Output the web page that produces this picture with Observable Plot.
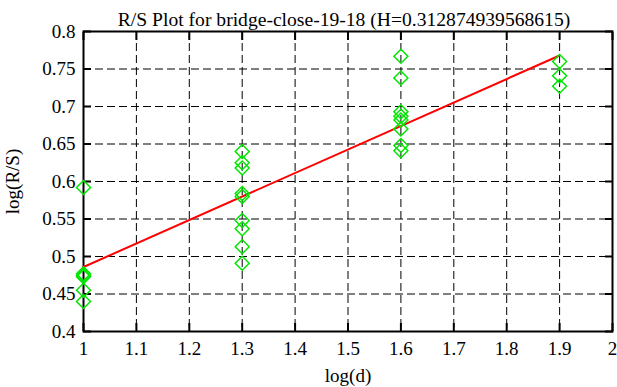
<!DOCTYPE html>
<html>
<head>
<meta charset="utf-8">
<script src="https://cdn.jsdelivr.net/npm/d3@7"></script>
<script src="https://cdn.jsdelivr.net/npm/@observablehq/plot@0.6"></script>
<style>
  html, body { margin: 0; padding: 0; background: #fff; }
</style>
</head>
<body>
<div id="chart"></div>
<script>
const titleText = "R/S Plot for bridge-close-19-18 (H=0.312874939568615)";
const xLabel = "log(d)";
const yLabel = "log(R/S)";

// R/S points (log(d), log(R/S))
const pointsD  = [1, 1, 1, 1, 1, 1,
                  1.3, 1.3, 1.3, 1.3, 1.3, 1.3, 1.3, 1.3, 1.3,
                  1.6, 1.6, 1.6, 1.6, 1.6, 1.6, 1.6, 1.6,
                  1.9, 1.9, 1.9];
const pointsRS = [0.592, 0.477, 0.475, 0.473, 0.455, 0.440,
                  0.640, 0.625, 0.618, 0.584, 0.580, 0.548, 0.537, 0.513, 0.491,
                  0.767, 0.738, 0.693, 0.687, 0.682, 0.670, 0.648, 0.641,
                  0.760, 0.741, 0.727];

// fitted line endpoints
const fitD  = [1, 1.9];
const fitRS = [0.486, 0.768];

const xTicks = [1, 1.1, 1.2, 1.3, 1.4, 1.5, 1.6, 1.7, 1.8, 1.9, 2];
const yTicks = [0.4, 0.45, 0.5, 0.55, 0.6, 0.65, 0.7, 0.75, 0.8];
const xGrid = xTicks.slice(1, -1);
const yGrid = yTicks.slice(1, -1);

const points = pointsD.map((d, i) => ({d, rs: pointsRS[i]}));
const fit = fitD.map((d, i) => ({d, rs: fitRS[i]}));
const fmt = v => String(+v.toFixed(3));

const chart = Plot.plot({
  width: 617,
  height: 387,
  marginLeft: 83,
  marginRight: 5,
  marginTop: 31,
  marginBottom: 56,
  style: {fontFamily: "'Liberation Serif', 'DejaVu Serif', serif", fontSize: "19px", color: "#000", background: "#fff", overflow: "visible"},
  x: {domain: [1, 2]},
  y: {domain: [0.4, 0.8]},
  marks: [
    Plot.ruleX(xGrid, {stroke: "#000", strokeWidth: 1, strokeDasharray: "8,4"}),
    Plot.ruleY(yGrid, {stroke: "#000", strokeWidth: 1, strokeDasharray: "8,4"}),
    Plot.axisX(xTicks, {anchor: "bottom", tickSize: -8, tickPadding: 18, strokeWidth: 2, tickFormat: fmt, label: xLabel, labelAnchor: "center", labelArrow: "none", labelOffset: 50, fontSize: 19}),
    Plot.axisX(xTicks, {anchor: "top", tickSize: -8, strokeWidth: 2, text: null, label: null}),
    Plot.axisY(yTicks, {anchor: "left", tickSize: -8, tickPadding: 16, strokeWidth: 2, tickFormat: fmt, label: yLabel, labelAnchor: "center", labelArrow: "none", labelOffset: 78, fontSize: 19}),
    Plot.axisY(yTicks, {anchor: "right", tickSize: -8, strokeWidth: 2, text: null, label: null}),
    Plot.frame({stroke: "#000", strokeWidth: 2}),
    Plot.line(fit, {x: "d", y: "rs", stroke: "#ff0000", strokeWidth: 2}),
    Plot.dot(points, {x: "d", y: "rs", symbol: "diamond2", r: 6.3, stroke: "#00e600", strokeWidth: 1.5, fill: "none"}),
    Plot.text([titleText], {frameAnchor: "top", dy: -19, dx: -4, fontSize: 19.6, fill: "#000"})
  ]
});
document.getElementById("chart").appendChild(chart);
</script>
</body>
</html>
